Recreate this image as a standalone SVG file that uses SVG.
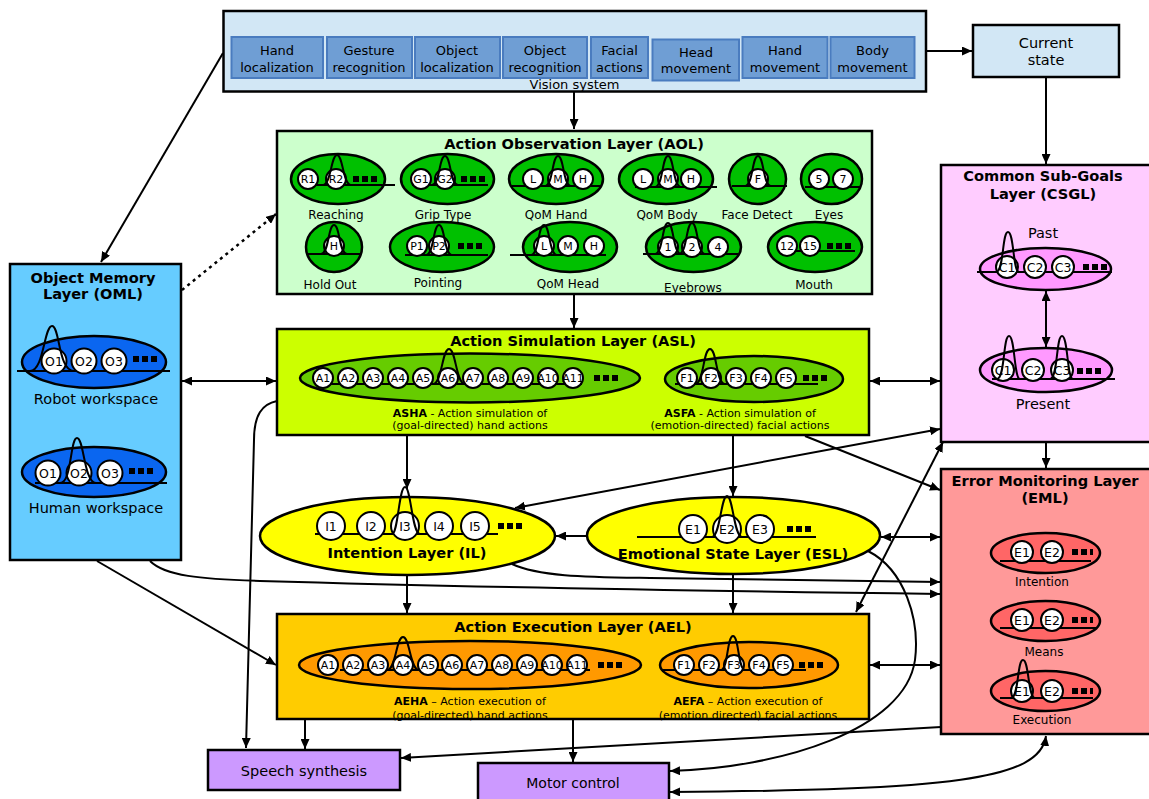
<svg xmlns="http://www.w3.org/2000/svg" width="1149" height="799" viewBox="0 0 1149 799">
<style>
text{font-family:"DejaVu Sans","Liberation Sans",sans-serif;fill:#000;dominant-baseline:central;text-anchor:middle}
.box{stroke:#000;stroke-width:2.5}
.ell{stroke:#000;stroke-width:2.5}
.c{fill:#fff;stroke:#000;stroke-width:2}
.bl{fill:none;stroke:#000;stroke-width:2}
.bp{fill:none;stroke:#000;stroke-width:2}
.t{font-size:11px}
.t2{font-size:12.5px}
.lb{font-size:12px}
.lb2{font-size:14.5px}
.ti{font-size:14.6px;font-weight:bold}
.sm{font-size:11px}
.vb{fill:#6f9ed4;stroke:#4a7cbf;stroke-width:2}
.vt{font-size:13px}
.conn path{fill:none;stroke:#000;stroke-width:2}
.d{fill:#000}
</style>
<defs>
<marker id="ah" viewBox="0 0 10 9" refX="10" refY="4.5" markerWidth="10" markerHeight="9" markerUnits="userSpaceOnUse" orient="auto-start-reverse"><path d="M0,0 L10,4.5 L0,9 z" fill="#000"/></marker>
</defs>

<g id="vision">
<rect class="box" x="223.5" y="11" width="702.5" height="80.5" fill="#d2e7f5"/>
<rect class="vb" x="231.5" y="37" width="91.5" height="41"/>
<rect class="vb" x="327" y="37" width="85" height="41"/>
<rect class="vb" x="415" y="37" width="85" height="41"/>
<rect class="vb" x="503" y="37" width="84" height="41"/>
<rect class="vb" x="591" y="37" width="57" height="41"/>
<rect class="vb" x="652.5" y="39.5" width="86.5" height="41"/>
<rect class="vb" x="742.5" y="37" width="85" height="41"/>
<rect class="vb" x="830.5" y="37" width="84" height="41"/>
<text class="vt" x="277" y="50">Hand</text><text class="vt" x="277" y="67">localization</text>
<text class="vt" x="369" y="50">Gesture</text><text class="vt" x="369" y="67">recognition</text>
<text class="vt" x="457" y="50">Object</text><text class="vt" x="457" y="67">localization</text>
<text class="vt" x="545" y="50">Object</text><text class="vt" x="545" y="67">recognition</text>
<text class="vt" x="619.5" y="50">Facial</text><text class="vt" x="619.5" y="67">actions</text>
<text class="vt" x="696" y="52">Head</text><text class="vt" x="696" y="68">movement</text>
<text class="vt" x="785" y="50">Hand</text><text class="vt" x="785" y="67">movement</text>
<text class="vt" x="872.5" y="50">Body</text><text class="vt" x="872.5" y="67">movement</text>
<text class="vt" x="574.5" y="84">Vision system</text>
</g>

<g id="current">
<rect class="box" x="973" y="25" width="146" height="52" fill="#d2e7f5"/>
<text class="lb2" x="1046" y="43">Current</text>
<text class="lb2" x="1046" y="60">state</text>
</g>

<g id="aol">
<rect class="box" x="277" y="131" width="595" height="163" fill="#ccffcc"/>
<text class="ti" x="574" y="143">Action Observation Layer (AOL)</text>
<g fill="#00c000">
<ellipse class="ell" cx="338" cy="179" rx="47" ry="25"/>
<ellipse class="ell" cx="447.5" cy="179" rx="46.5" ry="25"/>
<ellipse class="ell" cx="556" cy="179" rx="47" ry="25"/>
<ellipse class="ell" cx="666" cy="179" rx="47" ry="25"/>
<ellipse class="ell" cx="757.5" cy="179" rx="28.5" ry="25"/>
<ellipse class="ell" cx="831.5" cy="179" rx="30.5" ry="25"/>
<ellipse class="ell" cx="334" cy="247" rx="28" ry="25"/>
<ellipse class="ell" cx="442" cy="247" rx="52" ry="25"/>
<ellipse class="ell" cx="570" cy="247" rx="47" ry="25"/>
<ellipse class="ell" cx="693.5" cy="247" rx="47.5" ry="25"/>
<ellipse class="ell" cx="815" cy="247" rx="47" ry="25"/>
</g>
<path class="bl" d="M305,185H395 M412,185H488 M512,186H600 M635,187H717 M732,186H787 M805,187H860 M308,254H360 M405,255H488 M510,255H606 M643,254H738 M778,251H855"/>
<g>
<circle class="c" cx="308" cy="179" r="10"/><circle class="c" cx="336" cy="179" r="10"/>
<circle class="c" cx="421" cy="179" r="10"/><circle class="c" cx="445" cy="179" r="10"/>
<circle class="c" cx="533" cy="179" r="10"/><circle class="c" cx="558" cy="179" r="10"/><circle class="c" cx="583" cy="179" r="10"/>
<circle class="c" cx="643" cy="179" r="10"/><circle class="c" cx="668" cy="179" r="10"/><circle class="c" cx="691" cy="179" r="10"/>
<circle class="c" cx="758" cy="179" r="10"/>
<circle class="c" cx="819" cy="179" r="10"/><circle class="c" cx="843" cy="179" r="10"/>
<circle class="c" cx="334" cy="246" r="10"/>
<circle class="c" cx="417" cy="246" r="10"/><circle class="c" cx="439" cy="246" r="10"/>
<circle class="c" cx="544" cy="246" r="10"/><circle class="c" cx="568" cy="246" r="10"/><circle class="c" cx="594" cy="246" r="10"/>
<circle class="c" cx="668" cy="247" r="10"/><circle class="c" cx="692" cy="247" r="10"/><circle class="c" cx="718" cy="247" r="10"/>
<circle class="c" cx="787" cy="246" r="10"/><circle class="c" cx="810" cy="246" r="10"/>
</g>
<path class="bp" d="M323,185C331,185 331,155 337,155C343,155 343,185 351,185 M432,185C440,185 439,156 445,156C451,156 450,185 458,185 M545,186C553,186 552,156 558,156C564,156 563,186 571,186 M655,187C663,187 662,156 668,156C674,156 673,187 681,187 M745,186C753,186 752,156 758,156C764,156 763,186 771,186 M321,254C329,254 328,225 334,225C340,225 339,254 347,254 M426,255C434,255 433,225 439,225C445,225 444,255 452,255 M531,255C539,255 538,225 544,225C550,225 549,255 557,255 M655,254C663,254 662,223 668,223C674,223 673,254 681,254 M679,254C687,254 686,223 692,223C698,223 697,254 705,254"/>
<g class="t">
<text x="308" y="179">R1</text><text x="336" y="179">R2</text>
<text x="421" y="179">G1</text><text x="445" y="179">G2</text>
<text x="533" y="179">L</text><text x="558" y="179">M</text><text x="583" y="179">H</text>
<text x="643" y="179">L</text><text x="668" y="179">M</text><text x="691" y="179">H</text>
<text x="758" y="179">F</text>
<text x="819" y="179">5</text><text x="843" y="179">7</text>
<text x="334" y="246">H</text>
<text x="417" y="246">P1</text><text x="439" y="246">P2</text>
<text x="544" y="246">L</text><text x="568" y="246">M</text><text x="594" y="246">H</text>
<text x="668" y="247">1</text><text x="692" y="247">2</text><text x="718" y="247">4</text>
<text x="787" y="246">12</text><text x="810" y="246">15</text>
</g>
<g class="d">
<rect x="353" y="176" width="6" height="6"/><rect x="362" y="176" width="6" height="6"/><rect x="371" y="176" width="6" height="6"/>
<rect x="461" y="176" width="6" height="6"/><rect x="470" y="176" width="6" height="6"/><rect x="479" y="176" width="6" height="6"/>
<rect x="458" y="243" width="6" height="6"/><rect x="467" y="243" width="6" height="6"/><rect x="476" y="243" width="6" height="6"/>
<rect x="827" y="243" width="6" height="6"/><rect x="836" y="243" width="6" height="6"/><rect x="845" y="243" width="6" height="6"/>
</g>
<g class="lb">
<text x="336" y="215">Reaching</text><text x="443" y="215">Grip Type</text><text x="556" y="215">QoM Hand</text>
<text x="667" y="215">QoM Body</text><text x="757" y="215">Face Detect</text><text x="829" y="215">Eyes</text>
<text x="330" y="285">Hold Out</text><text x="438" y="283">Pointing</text><text x="568" y="284">QoM Head</text>
<text x="693" y="288">Eyebrows</text><text x="814" y="285">Mouth</text>
</g>
</g>

<g id="oml">
<rect class="box" x="10" y="264" width="171" height="296" fill="#66ccff"/>
<text class="ti" x="93" y="277">Object Memory</text>
<text class="ti" x="93" y="293">Layer (OML)</text>
<ellipse class="ell" cx="94" cy="362" rx="72" ry="26" fill="#0a66f0"/>
<path class="bl" d="M17,371H170"/>
<circle class="c" cx="54" cy="361" r="12.5"/><circle class="c" cx="84" cy="361" r="12.5"/><circle class="c" cx="114" cy="361" r="12.5"/>
<path class="bp" d="M30,371C44,371 44,326 52,326C60,326 58,371 74,371"/>
<text class="t2" x="54" y="361">O1</text><text class="t2" x="84" y="361">O2</text><text class="t2" x="114" y="361">O3</text>
<g class="d"><rect x="133" y="356" width="6" height="6"/><rect x="142" y="356" width="6" height="6"/><rect x="151" y="356" width="6" height="6"/></g>
<text class="lb2" x="96" y="399">Robot workspace</text>
<ellipse class="ell" cx="94" cy="472" rx="72" ry="25" fill="#0a66f0"/>
<path class="bl" d="M35,483H167"/>
<circle class="c" cx="48" cy="473" r="12.5"/><circle class="c" cx="79" cy="473" r="12.5"/><circle class="c" cx="110" cy="473" r="12.5"/>
<path class="bp" d="M60,483C72,483 70,438 77,438C84,438 84,483 96,483"/>
<text class="t2" x="48" y="473">O1</text><text class="t2" x="79" y="473">O2</text><text class="t2" x="110" y="473">O3</text>
<g class="d"><rect x="129" y="468" width="6" height="6"/><rect x="138" y="468" width="6" height="6"/><rect x="147" y="468" width="6" height="6"/></g>
<text class="lb2" x="96" y="508">Human workspace</text>
</g>

<g id="asl">
<rect class="box" x="277" y="329" width="592" height="106" fill="#ccff00"/>
<text class="ti" x="573" y="340">Action Simulation Layer (ASL)</text>
<ellipse class="ell" cx="470" cy="378" rx="170" ry="24.5" fill="#66cc00"/>
<ellipse class="ell" cx="754" cy="379" rx="89" ry="23" fill="#66cc00"/>
<path class="bl" d="M320,384H582 M675,384H818"/>
<g>
<circle class="c" cx="323" cy="378" r="10"/><circle class="c" cx="348" cy="378" r="10"/><circle class="c" cx="373" cy="378" r="10"/><circle class="c" cx="398" cy="378" r="10"/><circle class="c" cx="423" cy="378" r="10"/><circle class="c" cx="448" cy="378" r="10"/><circle class="c" cx="473" cy="378" r="10"/><circle class="c" cx="498" cy="378" r="10"/><circle class="c" cx="523" cy="378" r="10"/><circle class="c" cx="548" cy="378" r="10"/><circle class="c" cx="573" cy="378" r="10"/>
<circle class="c" cx="687" cy="378" r="10"/><circle class="c" cx="711" cy="378" r="10"/><circle class="c" cx="736" cy="378" r="10"/><circle class="c" cx="761" cy="378" r="10"/><circle class="c" cx="786" cy="378" r="10"/>
</g>
<path class="bp" d="M433,384C442,384 442,349 449,349C456,349 456,384 465,384 M695,384C704,384 703,349 710,349C717,349 716,384 725,384"/>
<g class="t">
<text x="323" y="378">A1</text><text x="348" y="378">A2</text><text x="373" y="378">A3</text><text x="398" y="378">A4</text><text x="423" y="378">A5</text><text x="448" y="378">A6</text><text x="473" y="378">A7</text><text x="498" y="378">A8</text><text x="523" y="378">A9</text><text x="548" y="378">A10</text><text x="573" y="378">A11</text>
<text x="687" y="378">F1</text><text x="711" y="378">F2</text><text x="736" y="378">F3</text><text x="761" y="378">F4</text><text x="786" y="378">F5</text>
</g>
<g class="d">
<rect x="594" y="375" width="6" height="6"/><rect x="603" y="375" width="6" height="6"/><rect x="612" y="375" width="6" height="6"/>
<rect x="803" y="375" width="6" height="6"/><rect x="812" y="375" width="6" height="6"/><rect x="821" y="375" width="6" height="6"/>
</g>
<text class="sm" x="470" y="413"><tspan font-weight="bold">ASHA</tspan> - Action simulation of</text>
<text class="sm" x="470" y="425">(goal-directed) hand actions</text>
<text class="sm" x="740" y="413"><tspan font-weight="bold">ASFA</tspan> - Action simulation of</text>
<text class="sm" x="740" y="425">(emotion-directed) facial actions</text>
</g>

<g id="il">
<ellipse class="ell" cx="407.5" cy="536" rx="147.5" ry="39" fill="#ffff00"/>
<path class="bl" d="M315,534H498"/>
<circle class="c" cx="331" cy="526" r="14"/><circle class="c" cx="371" cy="526" r="14"/><circle class="c" cx="405" cy="526" r="14"/><circle class="c" cx="439" cy="526" r="14"/><circle class="c" cx="475" cy="526" r="14"/>
<path class="bp" d="M392,534C398,534 399,487 405,487C411,487 412,534 420,534"/>
<g class="t2"><text x="331" y="526">I1</text><text x="371" y="526">I2</text><text x="405" y="526">I3</text><text x="439" y="526">I4</text><text x="475" y="526">I5</text></g>
<g class="d"><rect x="498" y="523" width="6" height="6"/><rect x="507" y="523" width="6" height="6"/><rect x="516" y="523" width="6" height="6"/></g>
<text class="ti" x="407" y="552">Intention Layer (IL)</text>
</g>

<g id="esl">
<ellipse class="ell" cx="733.5" cy="535.5" rx="146.5" ry="38.5" fill="#ffff00"/>
<path class="bl" d="M637,537H816"/>
<circle class="c" cx="693" cy="529" r="14"/><circle class="c" cx="727" cy="529" r="14"/><circle class="c" cx="760" cy="529" r="14"/>
<path class="bp" d="M712,537C720,537 721,496 727,496C733,496 734,537 742,537"/>
<g class="t2"><text x="693" y="529">E1</text><text x="727" y="529">E2</text><text x="760" y="529">E3</text></g>
<g class="d"><rect x="787" y="526" width="6" height="6"/><rect x="796" y="526" width="6" height="6"/><rect x="805" y="526" width="6" height="6"/></g>
<text class="ti" x="733" y="553">Emotional State Layer (ESL)</text>
</g>

<g id="ael">
<rect class="box" x="277" y="614" width="592" height="105" fill="#ffcc00"/>
<text class="ti" x="573" y="626">Action Execution Layer (AEL)</text>
<ellipse class="ell" cx="470" cy="665" rx="171" ry="24" fill="#ff9900"/>
<ellipse class="ell" cx="749" cy="665" rx="89" ry="23" fill="#ff9900"/>
<path class="bl" d="M340,670H590 M662,670H806"/>
<g>
<circle class="c" cx="328" cy="665" r="10"/><circle class="c" cx="353" cy="665" r="10"/><circle class="c" cx="378" cy="665" r="10"/><circle class="c" cx="403" cy="665" r="10"/><circle class="c" cx="428" cy="665" r="10"/><circle class="c" cx="452" cy="665" r="10"/><circle class="c" cx="477" cy="665" r="10"/><circle class="c" cx="502" cy="665" r="10"/><circle class="c" cx="527" cy="665" r="10"/><circle class="c" cx="552" cy="665" r="10"/><circle class="c" cx="577" cy="665" r="10"/>
<circle class="c" cx="684" cy="665" r="10"/><circle class="c" cx="709" cy="665" r="10"/><circle class="c" cx="734" cy="665" r="10"/><circle class="c" cx="759" cy="665" r="10"/><circle class="c" cx="783" cy="665" r="10"/>
</g>
<path class="bp" d="M387,670C396,670 396,637 403,637C410,637 410,670 419,670 M721,670C728,670 727,636 733,636C739,636 738,670 745,670"/>
<g class="t">
<text x="328" y="665">A1</text><text x="353" y="665">A2</text><text x="378" y="665">A3</text><text x="403" y="665">A4</text><text x="428" y="665">A5</text><text x="452" y="665">A6</text><text x="477" y="665">A7</text><text x="502" y="665">A8</text><text x="527" y="665">A9</text><text x="552" y="665">A10</text><text x="577" y="665">A11</text>
<text x="684" y="665">F1</text><text x="709" y="665">F2</text><text x="734" y="665">F3</text><text x="759" y="665">F4</text><text x="783" y="665">F5</text>
</g>
<g class="d">
<rect x="598" y="662" width="6" height="6"/><rect x="607" y="662" width="6" height="6"/><rect x="616" y="662" width="6" height="6"/>
<rect x="799" y="662" width="6" height="6"/><rect x="808" y="662" width="6" height="6"/><rect x="817" y="662" width="6" height="6"/>
</g>
<text class="sm" x="470" y="701"><tspan font-weight="bold">AEHA</tspan> – Action execution of</text>
<text class="sm" x="470" y="715">(goal-directed) hand actions</text>
<text class="sm" x="748" y="701"><tspan font-weight="bold">AEFA</tspan> – Action execution of</text>
<text class="sm" x="748" y="715">(emotion directed) facial actions</text>
</g>

<g id="csgl">
<rect class="box" x="941" y="165" width="220" height="277" fill="#ffccff"/>
<text class="ti" x="1043" y="175">Common Sub-Goals</text>
<text class="ti" x="1043" y="193">Layer (CSGL)</text>
<text class="lb2" x="1043" y="233">Past</text>
<ellipse class="ell" cx="1045.5" cy="269" rx="65.5" ry="21" fill="#ff99ff"/>
<path class="bl" d="M977,272H1112"/>
<circle class="c" cx="1007" cy="267" r="11"/><circle class="c" cx="1035" cy="267" r="11"/><circle class="c" cx="1063" cy="267" r="11"/>
<path class="bp" d="M996,272C1004,272 1002,232 1008,232C1014,232 1013,272 1019,272"/>
<g class="t2"><text x="1007" y="267">C1</text><text x="1035" y="267">C2</text><text x="1063" y="267">C3</text></g>
<g class="d"><rect x="1083" y="264" width="6" height="6"/><rect x="1092" y="264" width="6" height="6"/><rect x="1101" y="264" width="6" height="6"/></g>
<ellipse class="ell" cx="1046" cy="370" rx="66" ry="22" fill="#ff99ff"/>
<path class="bl" d="M992,379H1115"/>
<circle class="c" cx="1003" cy="370" r="11"/><circle class="c" cx="1033" cy="370" r="11"/><circle class="c" cx="1062" cy="370" r="11"/>
<path class="bp" d="M997,379C1005,379 1003,336 1009,336C1015,336 1014,379 1020,379 M1050,379C1058,379 1056,336 1062,336C1068,336 1067,379 1073,379"/>
<g class="t2"><text x="1003" y="370">C1</text><text x="1033" y="370">C2</text><text x="1062" y="370">C3</text></g>
<g class="d"><rect x="1077" y="368" width="6" height="6"/><rect x="1086" y="368" width="6" height="6"/><rect x="1095" y="368" width="6" height="6"/></g>
<text class="lb2" x="1043" y="404">Present</text>
</g>

<g id="eml">
<rect class="box" x="941" y="469" width="220" height="265" fill="#ff9999"/>
<text class="ti" x="1045" y="480">Error Monitoring Layer</text>
<text class="ti" x="1045" y="497">(EML)</text>
<g fill="#ff6666">
<ellipse class="ell" cx="1045.5" cy="553" rx="54.5" ry="20"/>
<ellipse class="ell" cx="1045.5" cy="621" rx="54.5" ry="20"/>
<ellipse class="ell" cx="1045.5" cy="691" rx="54.5" ry="20"/>
</g>
<path class="bl" d="M1000,561H1091 M1000,628H1097 M1000,698H1093"/>
<circle class="c" cx="1022" cy="552" r="11"/><circle class="c" cx="1052" cy="552" r="11"/>
<circle class="c" cx="1022" cy="620" r="11"/><circle class="c" cx="1052" cy="620" r="11"/>
<circle class="c" cx="1022" cy="691" r="11"/><circle class="c" cx="1052" cy="691" r="11"/>
<path class="bp" d="M1011,698C1019,698 1017,660 1023,660C1029,660 1028,698 1035,698"/>
<g class="t2">
<text x="1022" y="552">E1</text><text x="1052" y="552">E2</text>
<text x="1022" y="620">E1</text><text x="1052" y="620">E2</text>
<text x="1022" y="691">E1</text><text x="1052" y="691">E2</text>
</g>
<g class="d">
<rect x="1072" y="549" width="6" height="6"/><rect x="1081" y="549" width="6" height="6"/><rect x="1090" y="549" width="3" height="6"/>
<rect x="1072" y="617" width="6" height="6"/><rect x="1081" y="617" width="6" height="6"/><rect x="1090" y="617" width="3" height="6"/>
<rect x="1072" y="688" width="6" height="6"/><rect x="1081" y="688" width="6" height="6"/><rect x="1090" y="688" width="3" height="6"/>
</g>
<text class="lb" x="1042" y="582">Intention</text>
<text class="lb" x="1044" y="652">Means</text>
<text class="lb" x="1042" y="720">Execution</text>
</g>

<g id="speech">
<rect class="box" x="208" y="750" width="192" height="40" fill="#cc99ff"/>
<text class="lb2" x="304" y="771">Speech synthesis</text>
</g>

<g id="motor">
<rect class="box" x="478" y="763" width="191" height="45" fill="#cc99ff"/>
<text font-size="14px" x="573" y="783">Motor control</text>
</g>

<g class="conn">
<path marker-end="url(#ah)" d="M926,51H972"/>
<path marker-end="url(#ah)" d="M1046,77V164"/>
<path marker-end="url(#ah)" d="M574,92V129"/>
<path marker-end="url(#ah)" d="M223,53L101,262"/>
<path marker-end="url(#ah)" stroke-dasharray="3,4" style="stroke-width:2.5" d="M182,290L276,214"/>
<path marker-end="url(#ah)" d="M574,294V328"/>
<path marker-start="url(#ah)" marker-end="url(#ah)" d="M182,381H276"/>
<path marker-start="url(#ah)" marker-end="url(#ah)" d="M870,381H940"/>
<path marker-end="url(#ah)" d="M407,436V489"/>
<path marker-end="url(#ah)" d="M733,436V496"/>
<path marker-end="url(#ah)" d="M805,436L940,490"/>
<path marker-start="url(#ah)" marker-end="url(#ah)" d="M940,429L515,508"/>
<path marker-start="url(#ah)" marker-end="url(#ah)" d="M856,612L943,442"/>
<path marker-end="url(#ah)" d="M587,536H556"/>
<path marker-start="url(#ah)" marker-end="url(#ah)" d="M881,537H940"/>
<path marker-end="url(#ah)" d="M407,575V613"/>
<path marker-end="url(#ah)" d="M733,574V613"/>
<path marker-start="url(#ah)" marker-end="url(#ah)" d="M870,665H940"/>
<path marker-end="url(#ah)" d="M150,561C165,576 200,579 260,581C500,588 700,591 940,594"/>
<path marker-end="url(#ah)" d="M512,564C540,577 590,577 650,578L940,582"/>
<path marker-end="url(#ah)" d="M97,561L276,665"/>
<path marker-end="url(#ah)" d="M277,401C262,404 254,415 254,440L246,748"/>
<path marker-end="url(#ah)" d="M305,719V749"/>
<path marker-end="url(#ah)" d="M573,719V762"/>
<path marker-end="url(#ah)" d="M941,727L401,758"/>
<path marker-end="url(#ah)" d="M868,551C905,570 920,620 915,660C905,730 780,768 670,771"/>
<path marker-start="url(#ah)" marker-end="url(#ah)" d="M1046,736C1040,780 950,790 670,792"/>
<path marker-end="url(#ah)" d="M1046,443V468"/>
<path marker-start="url(#ah)" marker-end="url(#ah)" d="M1046,291V347"/>
</g>
</svg>
